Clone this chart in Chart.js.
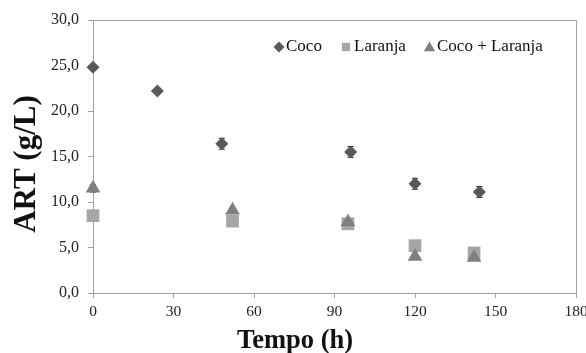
<!DOCTYPE html>
<html>
<head>
<meta charset="utf-8">
<script src="https://cdn.jsdelivr.net/npm/chart.js@4/dist/chart.umd.min.js"></script>
<style>
  html, body { margin: 0; padding: 0; background: #fff; overflow: hidden; }
  canvas { display: block; }
</style>
</head>
<body>
<canvas id="c" width="586" height="353"></canvas>
<script>
// ---- data ----
const seriesNames = ['Coco', 'Laranja', 'Coco + Laranja'];
const cocoTime = [0, 24, 48, 96, 120, 144];
const cocoART = [24.8, 22.2, 16.4, 15.5, 12.0, 11.1];
const cocoErr = [0.0, 0.0, 0.6, 0.6, 0.6, 0.6];
const laranjaTime = [0, 52, 95, 120, 142];
const laranjaART = [8.5, 7.9, 7.6, 5.2, 4.4];
const laranjaErr = [0, 0, 0, 0, 0];
const mixTime = [0, 52, 95, 120, 142];
const mixART = [11.5, 9.1, 7.8, 4.0, 3.9];
const mixErr = [0.4, 0, 0, 0, 0.3];
const xTicks = [0, 30, 60, 90, 120, 150, 180];
const yTicks = [0, 5, 10, 15, 20, 25, 30];
const xTitle = 'Tempo (h)';
const yTitle = 'ART (g/L)';

const toPts = (xs, ys) => xs.map((x, i) => ({ x: x, y: ys[i] }));
const errs = [cocoErr, laranjaErr, mixErr];

const axisGray = '#a0a0a0';
const serif = '"Liberation Serif", "Times New Roman", serif';

const errorBars = {
  id: 'errorBars',
  beforeDatasetsDraw(chart) {
    const { ctx, scales: { x, y } } = chart;
    ctx.save();
    ctx.strokeStyle = '#222';
    ctx.lineWidth = 1;
    chart.data.datasets.forEach((ds, di) => {
      ds.data.forEach((p, i) => {
        const e = errs[di][i];
        if (!e) return;
        const px = x.getPixelForValue(p.x);
        const y1 = y.getPixelForValue(p.y + e);
        const y2 = y.getPixelForValue(p.y - e);
        ctx.beginPath();
        ctx.moveTo(px, y1); ctx.lineTo(px, y2);
        ctx.moveTo(px - 3, y1); ctx.lineTo(px + 3, y1);
        ctx.moveTo(px - 3, y2); ctx.lineTo(px + 3, y2);
        ctx.stroke();
      });
    });
    ctx.restore();
  }
};

const frame = {
  id: 'frame',
  beforeDatasetsDraw(chart) {
    const { ctx, chartArea: a } = chart;
    ctx.save();
    ctx.strokeStyle = axisGray;
    ctx.lineWidth = 1;
    ctx.beginPath();
    ctx.moveTo(a.left, a.top + 0.5);
    ctx.lineTo(a.right + 0.5, a.top + 0.5);
    ctx.lineTo(a.right + 0.5, a.bottom);
    ctx.stroke();
    ctx.restore();
  }
};

const axisTitles = {
  id: 'axisTitles',
  afterDraw(chart) {
    const { ctx } = chart;
    ctx.save();
    ctx.fillStyle = '#111';
    ctx.textAlign = 'center';
    ctx.textBaseline = 'alphabetic';
    ctx.font = 'bold 26.5px ' + serif;
    ctx.fillText(xTitle, 295, 348);
    ctx.translate(35, 164);
    ctx.rotate(-Math.PI / 2);
    ctx.font = 'bold 31px ' + serif;
    ctx.fillText(yTitle, 0, 0);
    ctx.restore();
  }
};

const innerLegend = {
  id: 'innerLegend',
  afterDraw(chart) {
    const { ctx } = chart;
    ctx.save();
    ctx.font = '17px ' + serif;
    ctx.textBaseline = 'middle';
    ctx.textAlign = 'left';
    const yc = 47;
    const markerX = [279, 346, 429.5];
    const textX = [286, 354, 437];
    const sizes = [5.5, 5.8, 6.5];
    chart.data.datasets.forEach((ds, i) => {
      ctx.fillStyle = ds.backgroundColor;
      ctx.strokeStyle = ds.backgroundColor;
      Chart.helpers.drawPoint(ctx, {
        pointStyle: ds.pointStyle, radius: sizes[i], rotation: 0, borderWidth: 0
      }, markerX[i], yc + (ds.pointStyle === 'triangle' ? 1 : 0));
      ctx.fillStyle = '#111';
      ctx.fillText(ds.label, textX[i], yc);
    });
    ctx.restore();
  }
};

new Chart(document.getElementById('c'), {
  type: 'scatter',
  data: {
    datasets: [
      { label: seriesNames[0], data: toPts(cocoTime, cocoART), pointStyle: 'rectRot', clip: false,
        pointRadius: 6.5, backgroundColor: '#595959', borderColor: '#595959', borderWidth: 0, order: 0 },
      { label: seriesNames[1], data: toPts(laranjaTime, laranjaART), pointStyle: 'rect', clip: false,
        pointRadius: 9, backgroundColor: '#a6a6a6', borderColor: '#a6a6a6', borderWidth: 0, order: 2 },
      { label: seriesNames[2], data: toPts(mixTime, mixART), pointStyle: 'triangle', clip: false,
        pointRadius: 8.5, backgroundColor: '#7f7f7f', borderColor: '#7f7f7f', borderWidth: 0, order: 1 }
    ]
  },
  options: {
    responsive: false,
    animation: false,
    layout: { padding: { top: 20, right: 0, left: 0, bottom: 0 } },
    plugins: { legend: { display: false }, tooltip: { enabled: false } },
    scales: {
      x: {
        type: 'linear', min: 0, max: 180,
        afterBuildTicks(s) { s.ticks = xTicks.map(v => ({ value: v })); },
        afterFit(s) { s.height = 60; s.paddingRight = 10; },
        ticks: { font: { family: serif, size: 15.5 }, color: '#222', padding: 5, maxRotation: 0 },
        grid: { drawOnChartArea: false, drawTicks: true, tickLength: 5, color: axisGray },
        border: { color: axisGray },
        title: { display: false }
      },
      y: {
        type: 'linear', min: 0, max: 30,
        afterBuildTicks(s) { s.ticks = yTicks.map(v => ({ value: v })); },
        afterFit(s) { s.width = 93; },
        ticks: { font: { family: serif, size: 16 }, color: '#222', padding: 9,
          callback: v => v.toFixed(1).replace('.', ',') },
        grid: { drawOnChartArea: false, drawTicks: true, tickLength: 5, color: axisGray },
        border: { color: axisGray },
        title: { display: false }
      }
    }
  },
  plugins: [errorBars, frame, axisTitles, innerLegend]
});
</script>
</body>
</html>
